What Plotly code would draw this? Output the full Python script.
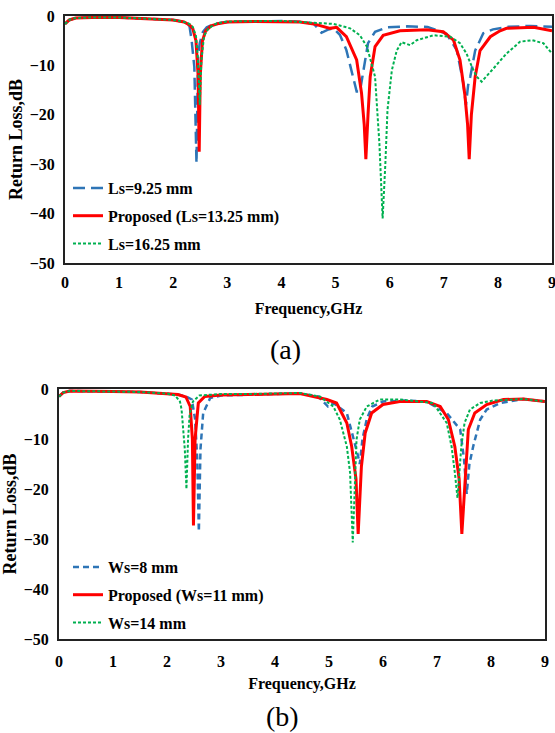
import plotly.graph_objects as go

# ---------------- data (a): varying Ls ----------------
freq_a_ls925 = [0, 0.08, 0.2, 0.5, 1.0, 1.5, 2.0, 2.2, 2.3, 2.34, 2.39, 2.43, 2.46, 2.49, 2.55, 2.62, 2.75, 3.0, 3.5, 4.0, 4.4, 4.6, 4.74, 4.85, 4.96, 5.08, 5.2, 5.33, 5.39, 5.45, 5.5, 5.55, 5.6, 5.73, 5.95, 6.32, 6.7, 7.05, 7.24, 7.36, 7.41, 7.45, 7.49, 7.58, 7.73, 7.91, 8.2, 8.6, 9.0]
rl_a_ls925 = [-1.6, -0.8, -0.4, -0.3, -0.3, -0.5, -0.8, -1.2, -2.0, -4.9, -10.3, -29.8, -8, -5.5, -3.2, -2.3, -1.6, -1.2, -1.1, -1.0, -1.2, -1.6, -3.4, -2.8, -2.5, -3.8, -6.9, -12.3, -15.3, -15.3, -12, -8.9, -5.5, -3.2, -2.3, -2.1, -2.2, -3.6, -6.9, -13.5, -18, -14, -12.3, -7, -3.5, -2.7, -2.2, -2.0, -2.2]

freq_a_prop = [0, 0.08, 0.2, 0.5, 1.0, 1.5, 2.0, 2.2, 2.3, 2.36, 2.42, 2.46, 2.48, 2.5, 2.54, 2.6, 2.7, 2.85, 3.0, 3.5, 4.0, 4.34, 4.6, 4.9, 5.02, 5.2, 5.39, 5.48, 5.53, 5.56, 5.6, 5.64, 5.73, 5.88, 6.19, 6.69, 6.99, 7.18, 7.3, 7.39, 7.44, 7.47, 7.51, 7.58, 7.67, 7.86, 8.04, 8.16, 8.66, 9.0]
rl_a_prop = [-1.6, -0.8, -0.4, -0.3, -0.3, -0.5, -0.8, -1.2, -1.8, -2.5, -5, -12, -27.5, -12, -5, -3, -2, -1.5, -1.2, -1.1, -1.1, -1.2, -1.6, -2.5, -2.3, -4.2, -8.9, -15.6, -22, -29, -20, -12.3, -6.2, -3.9, -3, -2.8, -3.2, -4.9, -8.9, -16, -22, -29, -20, -12.3, -7, -4.2, -3, -2.5, -2.3, -3]

freq_a_ls1625 = [0, 0.08, 0.2, 0.5, 1.0, 1.5, 2.0, 2.2, 2.3, 2.36, 2.42, 2.46, 2.49, 2.52, 2.57, 2.65, 2.8, 3.0, 3.5, 4.0, 4.34, 4.96, 5.27, 5.45, 5.58, 5.73, 5.81, 5.87, 5.92, 5.96, 6.04, 6.13, 6.22, 6.38, 6.5, 6.81, 7.12, 7.3, 7.42, 7.52, 7.61, 7.7, 7.92, 8.16, 8.41, 8.63, 8.84, 9.0]
rl_a_ls1625 = [-1.6, -0.8, -0.4, -0.3, -0.3, -0.5, -0.8, -1.2, -1.6, -2.2, -4, -9, -18, -9, -4, -2.5, -1.5, -1.1, -1.0, -1.0, -1.2, -1.6, -2.5, -3.9, -6.2, -12.3, -25.8, -41, -30, -19, -11, -7, -5.3, -5.9, -4.9, -3.9, -4.2, -5.5, -7.6, -10.3, -12.3, -13.3, -10.6, -7.6, -5.2, -4.9, -5.5, -7.6]

# ---------------- data (b): varying Ws ----------------
freq_b_ws8 = [0, 0.08, 0.2, 0.5, 1.0, 1.5, 2.0, 2.2, 2.35, 2.46, 2.52, 2.56, 2.59, 2.62, 2.67, 2.8, 3.0, 3.5, 4.0, 4.46, 4.8, 4.98, 5.08, 5.33, 5.45, 5.54, 5.57, 5.62, 5.7, 5.8, 6.0, 6.4, 6.8, 7.18, 7.43, 7.5, 7.55, 7.6, 7.67, 7.8, 7.92, 8.17, 8.6, 9.0]
rl_b_ws8 = [-1.5, -0.7, -0.4, -0.4, -0.5, -0.6, -0.9, -1.1, -1.5, -2.1, -6, -14, -28.5, -12, -4.8, -1.8, -1.3, -1.1, -1.0, -0.9, -1.5, -3.5, -2.8, -4.8, -9.5, -13.5, -15, -10, -6, -3.5, -2.5, -2.3, -2.5, -4.8, -8.1, -14, -21, -15, -11.5, -6.1, -4.1, -2.8, -2.0, -2.5]

freq_b_prop = [0, 0.08, 0.2, 0.5, 1.0, 1.5, 2.0, 2.2, 2.35, 2.43, 2.47, 2.49, 2.52, 2.58, 2.7, 3.0, 3.5, 4.0, 4.46, 4.96, 5.14, 5.33, 5.42, 5.5, 5.54, 5.6, 5.67, 5.79, 6.0, 6.31, 6.81, 7.06, 7.21, 7.33, 7.41, 7.46, 7.54, 7.58, 7.7, 7.92, 8.23, 8.6, 9.0]
rl_b_prop = [-1.5, -0.7, -0.4, -0.4, -0.5, -0.6, -0.9, -1.1, -1.6, -3.5, -10, -27.3, -10, -2.8, -1.5, -1.2, -1.1, -1.0, -0.9, -2.1, -2.8, -6.8, -11.5, -18, -29, -15.5, -8.8, -4.8, -3.1, -2.5, -2.5, -3.5, -6.1, -11.5, -18, -29, -13.5, -8.1, -4.8, -3.1, -2.1, -2.0, -2.5]

freq_b_ws14 = [0, 0.08, 0.2, 0.5, 1.0, 1.5, 2.0, 2.15, 2.24, 2.27, 2.3, 2.33, 2.36, 2.39, 2.42, 2.48, 2.6, 2.8, 3.0, 3.5, 4.0, 4.46, 4.83, 5.08, 5.2, 5.33, 5.39, 5.44, 5.51, 5.57, 5.7, 5.94, 6.31, 6.93, 7.18, 7.27, 7.33, 7.38, 7.45, 7.51, 7.61, 7.8, 8.04, 8.6, 9.0]
rl_b_ws14 = [-1.5, -0.7, -0.4, -0.4, -0.5, -0.6, -0.9, -1.3, -2.5, -4.1, -8.1, -12.1, -20, -10, -5, -2.5, -1.3, -1.1, -1.0, -1.0, -0.9, -0.8, -1.5, -3.5, -6.1, -11.5, -16.7, -30.7, -10.1, -6.1, -3.5, -2.1, -2.1, -2.8, -6.8, -11.5, -16.7, -21.8, -11.5, -6.8, -4.1, -2.8, -2.3, -2.0, -2.5]

names_a = ["Ls=9.25 mm", "Proposed (Ls=13.25 mm)", "Ls=16.25 mm"]
names_b = ["Ws=8 mm", "Proposed (Ws=11 mm)", "Ws=14 mm"]
x_ticks = [0, 1, 2, 3, 4, 5, 6, 7, 8, 9]
y_ticks = [0, -10, -20, -30, -40, -50]

BLUE = "#2E75B6"
RED = "#FF0000"
GREEN = "#00B050"
FONT = "Liberation Serif"

fig = go.Figure()

def add(x, y, name, color, width, dash, xa, ya, leg, grp):
    fig.add_trace(go.Scatter(x=x, y=y, name=name, mode="lines",
                             line=dict(color=color, width=width, dash=dash),
                             xaxis=xa, yaxis=ya, legend=leg, legendgroup=grp))

add(freq_a_ls925, rl_a_ls925, names_a[0], BLUE, 2.5, "12px,6px", "x", "y", "legend", "a1")
add(freq_a_prop, rl_a_prop, names_a[1], RED, 3, "solid", "x", "y", "legend", "a2")
add(freq_a_ls1625, rl_a_ls1625, names_a[2], GREEN, 2, "3px,2px", "x", "y", "legend", "a3")

add(freq_b_ws8, rl_b_ws8, names_b[0], BLUE, 2.5, "6px,4px", "x2", "y2", "legend2", "b1")
add(freq_b_prop, rl_b_prop, names_b[1], RED, 3, "solid", "x2", "y2", "legend2", "b2")
add(freq_b_ws14, rl_b_ws14, names_b[2], GREEN, 2, "3px,2px", "x2", "y2", "legend2", "b3")

W, H = 555, 733
def px_x(p): return p / W
def px_y(p): return 1 - p / H

TICKF = dict(family=FONT, size=16, color="black", weight="bold")
axis_common = dict(showgrid=False, zeroline=False, showline=True, linecolor="#222222",
                   linewidth=2, mirror=True, ticks="", automargin=False, tickfont=TICKF,
                   ticklabeloverflow="allow")
XTF = dict(family=FONT, size=16, weight="bold")
YT = dict(text="Return Loss,dB", font=dict(family=FONT, size=18, weight="bold"), standoff=2)

fig.update_layout(
    width=W, height=H, margin=dict(l=0, r=0, t=0, b=0, autoexpand=False),
    paper_bgcolor="white", plot_bgcolor="white",
    font=dict(family=FONT, color="black"),
    xaxis=dict(domain=[px_x(65), px_x(552)], range=[0, 9], tickvals=x_ticks, anchor="y",
               title=dict(text="Frequency,GHz", font=XTF, standoff=13),
               ticklabelstandoff=4, **axis_common),
    yaxis=dict(domain=[px_y(263), px_y(16)], range=[-50, 0], tickvals=y_ticks, anchor="x",
               title=YT, ticklabelstandoff=5, **axis_common),
    xaxis2=dict(domain=[px_x(59), px_x(545)], range=[0, 9], tickvals=x_ticks, anchor="y2",
                title=dict(text="Frequency,GHz", font=XTF, standoff=9),
                ticklabelstandoff=7, **axis_common),
    yaxis2=dict(domain=[px_y(639), px_y(389)], range=[-50, 0], tickvals=y_ticks, anchor="x2",
                title=YT, ticklabelstandoff=5, **axis_common),
    legend=dict(x=px_x(68), y=px_y(171), xanchor="left", yanchor="top",
                bgcolor="rgba(0,0,0,0)", tracegroupgap=4,
                font=dict(family=FONT, size=16, color="black", weight="bold")),
    legend2=dict(x=px_x(68), y=px_y(550), xanchor="left", yanchor="top",
                 bgcolor="rgba(0,0,0,0)", tracegroupgap=4,
                 font=dict(family=FONT, size=16, color="black", weight="bold")),
    showlegend=True,
    annotations=[
        dict(text="(a)", x=px_x(285), y=px_y(350), xref="paper", yref="paper",
             xanchor="center", yanchor="middle",
             showarrow=False, font=dict(family=FONT, size=28, color="black")),
        dict(text="(b)", x=px_x(282), y=px_y(716), xref="paper", yref="paper",
             xanchor="center", yanchor="middle",
             showarrow=False, font=dict(family=FONT, size=28, color="black")),
    ],
)

fig.write_html("out.html", config={"displayModeBar": False},
               post_script="document.body.style.margin='0px';document.body.style.overflow='hidden';")
